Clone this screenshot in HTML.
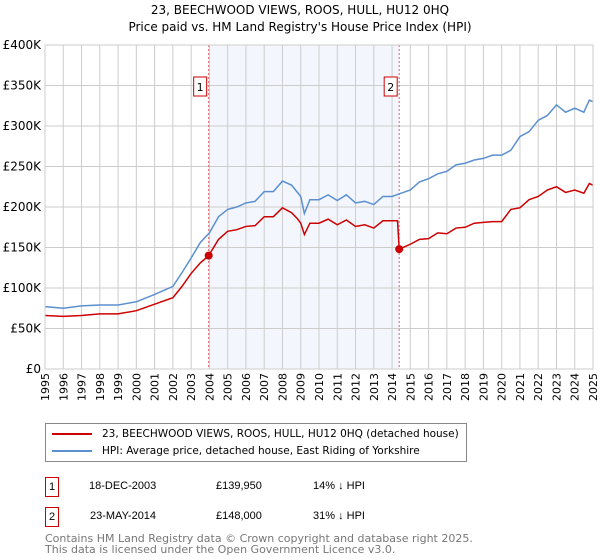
<!DOCTYPE html>
<html><head><meta charset="utf-8"><style>
body{margin:0;background:#fff;font-family:"Liberation Sans","DejaVu Sans",sans-serif;}
#wrap{position:relative;width:600px;height:560px;overflow:hidden}
.t{position:absolute;font-size:12px;color:#000;white-space:nowrap}
</style></head><body><div id="wrap">
<svg id="svg" width="600" height="420" style="position:absolute;left:0;top:0"></svg>
<div style="position:absolute;left:45px;top:423px;width:422px;height:39px;border:1px solid #888;box-sizing:border-box">
 <div style="position:absolute;left:6px;top:4px;font-size:10.5px;white-space:nowrap;font-family:'DejaVu Sans',sans-serif"><span style="display:inline-block;width:40px;height:2px;background:#cc0000;vertical-align:middle;margin-right:10px"></span>23, BEECHWOOD VIEWS, ROOS, HULL, HU12 0HQ (detached house)</div>
 <div style="position:absolute;left:6px;top:21px;font-size:10.5px;white-space:nowrap;font-family:'DejaVu Sans',sans-serif"><span style="display:inline-block;width:40px;height:2px;background:#5b8fd0;vertical-align:middle;margin-right:10px"></span>HPI: Average price, detached house, East Riding of Yorkshire</div>
</div>
<div style="position:absolute;left:45px;top:477px;width:14px;height:20px;border:1px solid #cc0000;box-sizing:border-box;font-size:11px;text-align:center;line-height:18px">1</div>
<div class="t" style="left:89px;top:480px;font-size:11px">18-DEC-2003</div>
<div class="t" style="left:216px;top:480px;font-size:11px">£139,950</div>
<div class="t" style="left:313px;top:480px;font-size:11px">14% ↓ HPI</div>
<div style="position:absolute;left:45px;top:507px;width:14px;height:20px;border:1px solid #cc0000;box-sizing:border-box;font-size:11px;text-align:center;line-height:18px">2</div>
<div class="t" style="left:90px;top:510px;font-size:11px">23-MAY-2014</div>
<div class="t" style="left:216px;top:510px;font-size:11px">£148,000</div>
<div class="t" style="left:313px;top:510px;font-size:11px">31% ↓ HPI</div>
<div class="t" style="left:45px;top:533px;font-size:11px;color:#777;font-family:'DejaVu Sans',sans-serif;line-height:11px">Contains HM Land Registry data © Crown copyright and database right 2025.<br>This data is licensed under the Open Government Licence v3.0.</div>
</div>
<script>
const hpiYears=[1995,1996,1997,1998,1999,2000,2001,2002,2002.5,2003,2003.5,2004,2004.5,2005,2005.5,2006,2006.5,2007,2007.5,2008,2008.5,2009,2009.2,2009.5,2010,2010.5,2011,2011.5,2012,2012.5,2013,2013.5,2014,2014.5,2015,2015.5,2016,2016.5,2017,2017.5,2018,2018.5,2019,2019.5,2020,2020.5,2021,2021.5,2022,2022.5,2023,2023.5,2024,2024.5,2024.8,2025];
const hpiValues=[77,75,78,79,79,83,92,102,119,137,156,168,188,197,200,205,207,219,219,232,227,213,192,209,209,215,208,215,205,207,203,213,213,217,221,231,235,241,244,252,254,258,260,264,264,270,287,293,307,313,326,317,322,317,332,330];
const priceYears=[1995,1996,1997,1998,1999,2000,2001,2002,2002.5,2003,2003.5,2003.96,2004.5,2005,2005.5,2006,2006.5,2007,2007.5,2008,2008.5,2008.8,2009,2009.2,2009.5,2010,2010.5,2011,2011.5,2012,2012.5,2013,2013.5,2014.3,2014.39,2015,2015.5,2016,2016.5,2017,2017.5,2018,2018.5,2019,2019.5,2020,2020.5,2021,2021.5,2022,2022.5,2023,2023.5,2024,2024.5,2024.8,2025];
const priceValues=[66,65,66,68,68,72,80,88,102,118,131,139.95,160,170,172,176,177,188,188,199,193,186,180,166,180,180,185,178,184,176,178,174,183,183,148,154,160,161,168,167,174,175,180,181,182,182,197,199,209,213,221,225,218,221,217,229,227];
const saleYears=[2003.96,2014.39];
const saleValues=[139.95,148];
const saleLabels=["1","2"];
const yTicks=[0,50,100,150,200,250,300,350,400];
const yTickLabels=["£0","£50K","£100K","£150K","£200K","£250K","£300K","£350K","£400K"];
const xTicks=[1995,1996,1997,1998,1999,2000,2001,2002,2003,2004,2005,2006,2007,2008,2009,2010,2011,2012,2013,2014,2015,2016,2017,2018,2019,2020,2021,2022,2023,2024,2025];

const X0=45,X1=593,Y0=369,Y1=45;
const xs=y=>X0+(y-1995)/30*(X1-X0);
const ys=v=>Y0-v/400*(Y0-Y1);
const svg=document.getElementById('svg');const NS='http://www.w3.org/2000/svg';
function mk(tag,attrs,parent){const e=document.createElementNS(NS,tag);for(const k in attrs)e.setAttribute(k,attrs[k]);(parent||svg).appendChild(e);return e;}
let e;
e=mk('text',{x:300,y:14,'text-anchor':'middle','font-size':12,'font-family':'DejaVu Sans,sans-serif'});e.textContent='23, BEECHWOOD VIEWS, ROOS, HULL, HU12 0HQ';


e=mk('text',{x:300,y:31,'text-anchor':'middle','font-size':12,'font-family':'DejaVu Sans,sans-serif'});e.textContent="Price paid vs. HM Land Registry's House Price Index (HPI)";


e=mk('rect',{x:xs(saleYears[0]),y:Y1,width:xs(saleYears[1])-xs(saleYears[0]),height:Y0-Y1,fill:'#eef3fc',opacity:0.7});


xTicks.forEach(t=>{const l=mk('line',{x1:xs(t),x2:xs(t),y1:Y1,y2:Y0,stroke:'#ccc','stroke-width':1});


const tx=mk('text',{x:0,y:0,'font-size':11,'font-family':'DejaVu Sans,sans-serif','text-anchor':'end',transform:`translate(${xs(t)+4},${Y0+4}) rotate(-90)`});tx.textContent=t;

});
yTicks.forEach((t,i)=>{const l=mk('line',{x1:X0,x2:X1,y1:ys(t),y2:ys(t),stroke:'#ccc','stroke-width':1});


const tx=mk('text',{x:X0-4,y:ys(t)+4,'font-size':12,'font-family':'DejaVu Sans,sans-serif','text-anchor':'end'});tx.textContent=yTickLabels[i];

});
saleYears.forEach((s,i)=>{const l=mk('line',{x1:xs(s),x2:xs(s),y1:Y1,y2:Y0,stroke:'#e06060','stroke-width':1,'stroke-dasharray':'2,2'});


const g=mk('g',{});


mk('rect',{x:xs(s)-15,y:77,width:13,height:19,fill:'#fff',stroke:'#cc0000'},g);
const tx=mk('text',{x:xs(s)-8.5,y:91,'font-size':11,'text-anchor':'middle','font-family':'DejaVu Sans,sans-serif'},g);tx.textContent=saleLabels[i];});
function line(xa,va,c,name){const p=mk('polyline',{points:xa.map((x,i)=>xs(x)+','+ys(va[i])).join(' '),fill:'none',stroke:c,'stroke-width':1.5});

}
line(hpiYears,hpiValues,'#5b8fd0','hpi-line');
line(priceYears,priceValues,'#cc0000','price-paid-line');
saleYears.forEach((s,i)=>{const c=mk('circle',{cx:xs(s),cy:ys(saleValues[i]),r:4,fill:'#cc0000'});

});
e=mk('rect',{x:X0,y:Y1,width:X1-X0,height:Y0-Y1,fill:'none',stroke:'#ccc'});


</script>
</body></html>
